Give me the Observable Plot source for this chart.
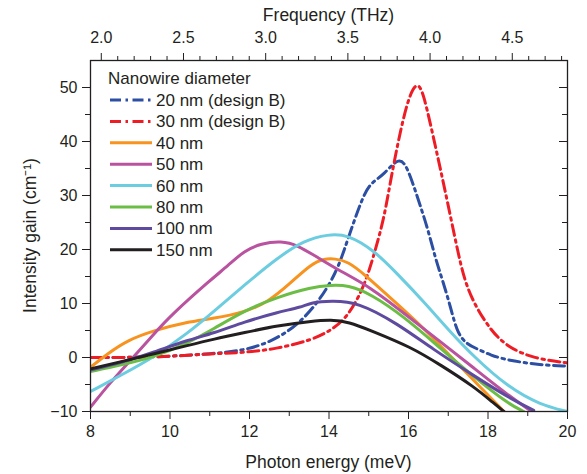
<!DOCTYPE html>
<html>
<head>
<meta charset="utf-8">
<script src="https://cdn.jsdelivr.net/npm/d3@7"></script>
<script src="https://cdn.jsdelivr.net/npm/@observablehq/plot@0.6"></script>
<style>
  html, body { margin: 0; padding: 0; background: #fff; }
  #wrap { position: relative; width: 587px; height: 474px; }
  #wrap svg { position: absolute; left: 0; top: 0; }
</style>
</head>
<body>
<div id="wrap"></div>
<script>
// ---- data ----
const seriesNames = ["20 nm (design B)", "30 nm (design B)", "40 nm", "50 nm", "60 nm", "80 nm", "100 nm", "150 nm"];
const seriesColors = ["#2c4fa3", "#ee1c25", "#f7931e", "#b9529f", "#6ccde0", "#6cbd45", "#5e4b9f", "#231f20"];
const seriesDashed = [true, true, false, false, false, false, false, false];

const energy20 = [8, 9, 10, 11.04, 11.87, 12.54, 13.21, 13.8, 14.18, 14.38, 14.63, 14.88, 15.05, 15.39, 15.77, 15.98, 16.23, 16.48, 16.69, 16.85, 17.06, 17.23, 17.48, 17.73, 18.07, 18.49, 19.32, 20];
const gain20   = [0, 0, 0.2, 0.7, 1.3, 2.9, 5.9, 10.9, 15.8, 19.8, 25.3, 30.2, 32.3, 33.9, 37.3, 35.1, 29.6, 24.0, 18.0, 14.5, 9.3, 4.4, 2.4, 1.6, 0.4, -0.5, -1.4, -1.6];

const energy30 = [8, 9, 10, 11.04, 11.87, 12.71, 13.55, 14.05, 14.47, 14.88, 15.14, 15.39, 15.56, 15.81, 16.02, 16.23, 16.39, 16.65, 16.86, 17.06, 17.23, 17.4, 17.65, 18.07, 18.49, 19.15, 20];
const gain30   = [0, 0, 0.2, 0.7, 0.9, 1.65, 3.2, 5.0, 7.5, 13.0, 19.2, 25.9, 33.3, 42.5, 48.6, 51.2, 48.6, 40.0, 33.0, 26.0, 20.0, 14.5, 9.9, 5.0, 1.95, -0.2, -1.0];

const energy40 = [8, 8.43, 8.93, 9.6, 10.43, 11.1, 11.87, 12.46, 13.05, 13.55, 13.88, 14.15, 14.47, 14.88, 15.72, 16.39, 17.02, 17.65, 18.4];
const gain40   = [-1.8, 0.7, 3.2, 5.0, 6.6, 7.2, 8.4, 10.2, 13.9, 17.3, 18.3, 18.3, 17.8, 15.5, 9.9, 5.4, 0.5, -4.3, -10];

const energy50 = [8, 8.5, 9, 9.6, 10.02, 11.04, 11.46, 11.87, 12.29, 12.8, 13.21, 13.72, 14.26, 15.05, 15.9, 16.81, 17.65, 18.49, 19.1];
const gain50   = [-9.2, -4.6, -0.6, 4.4, 7.8, 14.5, 17.0, 19.8, 21.1, 21.6, 20.8, 18.5, 16.1, 13.0, 8.1, 2.9, -2.0, -6.9, -10];

const energy60 = [8, 8.76, 9.6, 10.43, 11.1, 11.87, 12.71, 13.38, 13.97, 14.47, 15.14, 15.72, 16.39, 17.02, 17.65, 18.49, 19.32, 20];
const gain60   = [-6.3, -3.3, 0.1, 4.4, 8.5, 13.4, 18.5, 21.7, 22.8, 22.8, 19.8, 15.5, 10.3, 5.0, 0.1, -5.4, -8.8, -10];

const energy80 = [8, 8.76, 9.6, 10.43, 11.1, 11.87, 12.71, 13.55, 14.05, 14.47, 15.05, 15.9, 16.81, 17.65, 18.49, 18.9];
const gain80   = [-2.6, -1.4, 0.1, 2.6, 5.3, 8.7, 11.2, 13.0, 13.4, 13.4, 11.8, 7.5, 1.65, -3.6, -8.5, -10];

const energy100 = [8, 8.76, 9.6, 10.43, 11.1, 11.87, 12.71, 13.3, 13.55, 14.05, 14.72, 15.72, 16.6, 17.65, 18.49, 19.15];
const gain100   = [-2.3, -1.0, 1.0, 3.2, 4.5, 6.6, 8.4, 9.3, 10.2, 10.5, 10.3, 6.3, 1.6, -3.4, -7.3, -9.8];

const energy150 = [8, 8.76, 9.6, 10.43, 11.1, 11.87, 12.71, 13.55, 14.05, 14.5, 15.05, 16.06, 16.81, 17.65, 18.15, 18.4];
const gain150   = [-2.1, -0.8, 0.7, 2.2, 3.4, 4.6, 5.9, 6.7, 7.0, 6.6, 5.0, 1.95, -1.4, -5.4, -8.5, -10];

const energyArrays = [energy20, energy30, energy40, energy50, energy60, energy80, energy100, energy150];
const gainArrays   = [gain20, gain30, gain40, gain50, gain60, gain80, gain100, gain150];

// ticks and labels
const xMajorTicks = [8, 10, 12, 14, 16, 18, 20];
const xMinorTicks = [9, 11, 13, 15, 17, 19];
const yMajorTicks = [-10, 0, 10, 20, 30, 40, 50];
const yMinorTicks = [-5, 5, 15, 25, 35, 45];
const thzMajorTicks = [2.0, 2.5, 3.0, 3.5, 4.0, 4.5];
const thzMinorTicks = [2.1, 2.2, 2.3, 2.4, 2.6, 2.7, 2.8, 2.9, 3.1, 3.2, 3.3, 3.4, 3.6, 3.7, 3.8, 3.9, 4.1, 4.2, 4.3, 4.4, 4.6, 4.7, 4.8];
const meVperTHz = 4.1357;
const xTitle = "Photon energy (meV)";
const yTitle = "Intensity gain (cm\u207B\u00B9)";
const topTitle = "Frequency (THz)";
const legendTitle = "Nanowire diameter";

// ---- build rows ----
const rows = [];
seriesNames.forEach((name, i) => {
  energyArrays[i].forEach((e, j) => rows.push({series: name, energy: e, gain: gainArrays[i][j]}));
});

const W = 587, H = 474;
const mL = 90, mR = 20, mT = 60, mB = 63;
const plotW = W - mL - mR;
const ink = "#231f20";
const fontFam = "'Liberation Sans', Arial, Helvetica, sans-serif";
const dash = "11,4.5,2.5,4.5";

const marks = [];
seriesNames.forEach((name, i) => {
  marks.push(Plot.line(rows.filter(r => r.series === name), {
    x: "energy", y: "gain",
    stroke: seriesColors[i],
    strokeWidth: 3,
    curve: "basis",
    strokeDasharray: seriesDashed[i] ? dash : null,
    clip: true
  }));
});

const chart = Plot.plot({
  width: W, height: H,
  marginLeft: mL, marginRight: mR, marginTop: mT, marginBottom: mB,
  style: {fontFamily: fontFam, fontSize: "16px", color: ink, background: "transparent"},
  x: {domain: [8, 20]},
  y: {domain: [-10, 55]},
  marks: [
    ...marks,
    Plot.frame({stroke: ink, strokeWidth: 1.3}),
    // bottom axis
    Plot.axisX(xMajorTicks, {anchor: "bottom", tickSize: 8, tickPadding: 6, fontSize: 16, stroke: ink, fill: ink, label: null}),
    Plot.axisX(xMinorTicks, {anchor: "bottom", tickSize: 5, text: null, label: null, stroke: ink}),
    // left axis
    Plot.axisY(yMajorTicks, {anchor: "left", tickSize: 8, tickPadding: 5, fontSize: 16, stroke: ink, fill: ink, label: null}),
    Plot.axisY(yMinorTicks, {anchor: "left", tickSize: 5, text: null, label: null, stroke: ink}),
    // right inward ticks
    Plot.tickY(yMajorTicks, {y: d => d, stroke: ink, insetLeft: plotW - 8}),
    Plot.tickY(yMinorTicks, {y: d => d, stroke: ink, insetLeft: plotW - 5}),
    // top axis (frequency)
    Plot.axisX(thzMajorTicks.map(t => t * meVperTHz), {anchor: "top", tickSize: 8, tickPadding: 10, fontSize: 16, stroke: ink, fill: ink,
      tickFormat: d => (d / meVperTHz).toFixed(1), label: null}),
    Plot.axisX(thzMinorTicks.map(t => t * meVperTHz), {anchor: "top", tickSize: 5, text: null, label: null, stroke: ink})
  ]
});

const wrap = document.getElementById("wrap");
wrap.appendChild(chart);

// ---- overlay: axis titles and legend ----
const ov = d3.select(wrap).append("svg")
  .attr("width", W).attr("height", H)
  .style("pointer-events", "none")
  .style("font-family", fontFam);

const cx = mL + plotW / 2;
const cy = mT + (H - mT - mB) / 2;
ov.append("text").attr("x", cx).attr("y", 15).attr("dy", "0.35em").attr("text-anchor", "middle")
  .attr("font-size", 17.5).attr("fill", ink).text(topTitle);
ov.append("text").attr("x", cx).attr("y", 462).attr("dy", "0.35em").attr("text-anchor", "middle")
  .attr("font-size", 17.5).attr("fill", ink).text(xTitle);
ov.append("text").attr("transform", `translate(30,${cy}) rotate(-90)`).attr("dy", "0.35em").attr("text-anchor", "middle")
  .attr("font-size", 17.5).attr("fill", ink).text(yTitle);

ov.append("text").attr("x", 108).attr("y", 78).attr("dy", "0.35em")
  .attr("font-size", 17).attr("fill", ink).text(legendTitle);

seriesNames.forEach((name, i) => {
  const ly = 100 + i * 21.4;
  ov.append("line").attr("x1", 110).attr("x2", 152).attr("y1", ly).attr("y2", ly)
    .attr("stroke", seriesColors[i]).attr("stroke-width", 3)
    .attr("stroke-dasharray", seriesDashed[i] ? dash : null);
  ov.append("text").attr("x", 156).attr("y", ly).attr("dy", "0.35em")
    .attr("font-size", 17).attr("fill", ink).text(name);
});
</script>
</body>
</html>
